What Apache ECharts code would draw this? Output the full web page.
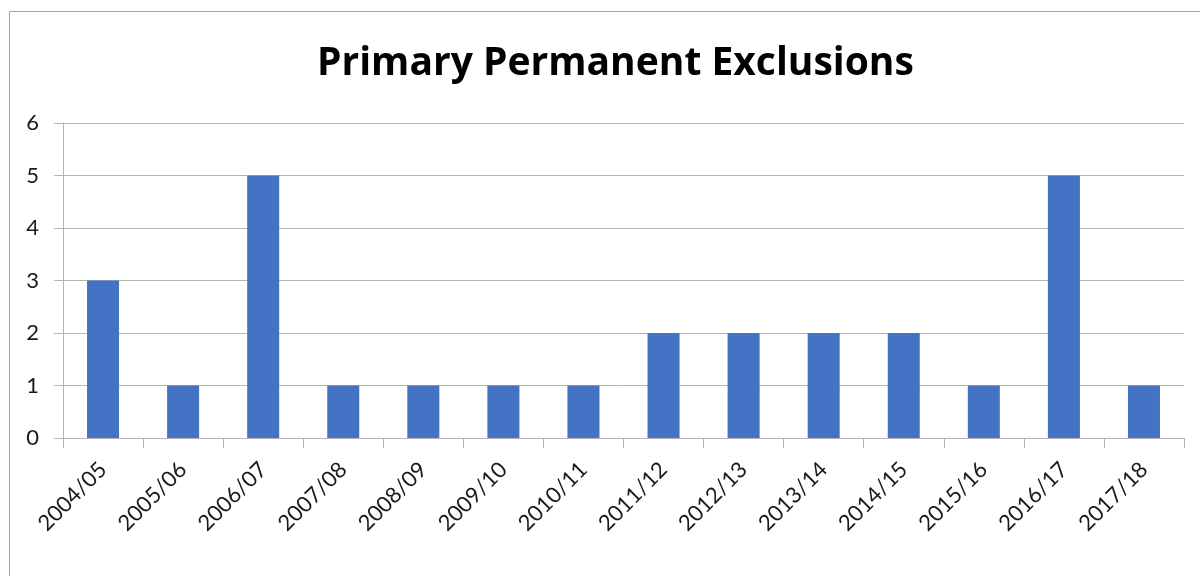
<!DOCTYPE html>
<html>
<head>
<meta charset="utf-8">
<script src="https://cdn.jsdelivr.net/npm/echarts@6/dist/echarts.min.js"></script>
<style>
  html, body { margin: 0; padding: 0; background: #fff; }
  #chart { width: 1200px; height: 576px; }
</style>
</head>
<body>
<div id="chart"></div>
<script>
// School years and the count of permanent exclusions in each
const years = ['2004/05', '2005/06', '2006/07', '2007/08', '2008/09', '2009/10', '2010/11',
               '2011/12', '2012/13', '2013/14', '2014/15', '2015/16', '2016/17', '2017/18'];
const exclusions = [3, 1, 5, 1, 1, 1, 1, 2, 2, 2, 2, 1, 5, 1];
const titleText = 'Primary Permanent Exclusions';

const gridColor = '#b4b4b4';
const textColor = '#1a1a1a';
const fontFamily = 'Lato, "Open Sans", sans-serif';

const chart = echarts.init(document.getElementById('chart'));
chart.setOption({
  animation: false,
  backgroundColor: '#ffffff',
  graphic: [{
    type: 'rect',
    shape: { x: 9.5, y: 11.5, width: 1300, height: 700 },
    style: { fill: 'none', stroke: '#a6a6a6', lineWidth: 1 },
    silent: true
  }],
  title: {
    text: titleText,
    left: 312,
    top: 39,
    textStyle: { fontFamily: '"Open Sans", sans-serif', fontWeight: 'bold', fontSize: 39, color: '#000' }
  },
  grid: { left: 63, right: 16, top: 123, bottom: 138, containLabel: false },
  xAxis: {
    type: 'category',
    data: years,
    boundaryGap: true,
    axisLine: { show: true, lineStyle: { color: gridColor, width: 1 } },
    axisTick: { show: true, length: 10, alignWithLabel: false, lineStyle: { color: gridColor } },
    axisLabel: {
      rotate: 45,
      interval: 0,
      margin: 28,
      color: textColor,
      fontFamily: fontFamily,
      fontSize: 22
    },
    splitLine: { show: false }
  },
  yAxis: {
    type: 'value',
    min: 0,
    max: 6,
    interval: 1,
    axisLine: { show: true, lineStyle: { color: gridColor, width: 1 } },
    axisTick: { show: true, length: 9, lineStyle: { color: gridColor } },
    axisLabel: { margin: 24, color: textColor, fontFamily: fontFamily, fontSize: 22 },
    splitLine: { show: true, lineStyle: { color: gridColor, width: 1 } }
  },
  series: [{
    type: 'bar',
    data: exclusions,
    barWidth: '40%',
    itemStyle: { color: '#4472c4' }
  }]
});
</script>
</body>
</html>
